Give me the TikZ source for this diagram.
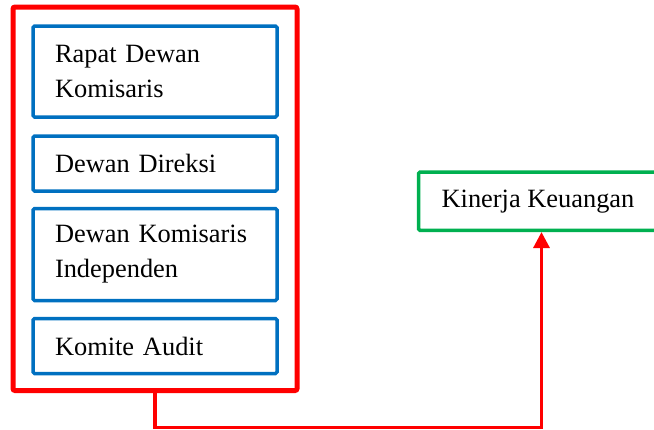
\documentclass[tikz,border=0pt]{standalone}
\usepackage{fontspec}
\setmainfont{Liberation Serif}
\usetikzlibrary{arrows.meta}
\definecolor{boxblue}{RGB}{0,112,192}
\definecolor{boxgreen}{RGB}{0,176,80}
\definecolor{boxred}{RGB}{255,0,0}
\tikzset{
  bluebox/.style={draw=boxblue, line width=3.5pt, rounded corners=1.5pt,
    text width=200pt, inner xsep=22pt, inner ysep=0pt, align=left,
    font=\fontsize{26.4}{35}\selectfont},
  greenbox/.style={draw=boxgreen, line width=3.5pt, rounded corners=1.5pt,
    minimum width=246pt, minimum height=58.3pt, inner sep=0pt,
    font=\fontsize{26.4}{35}\selectfont},
  redbox/.style={draw=boxred, line width=5pt, rounded corners=2pt,
    minimum width=284pt, minimum height=383.5pt, inner sep=0pt},
  conn/.style={draw=boxred, line width=3.3pt,
    -{Triangle[width=16pt,length=16pt]}}
}
\begin{document}
\begin{tikzpicture}[x=1pt,y=-1pt]
\useasboundingbox (0,0) rectangle (654,429);
\node[redbox] (grp) at (155,198.75) {};
\node[bluebox, minimum height=91pt] (rdk) at (155,71.5) {Rapat Dewan\\Komisaris};
\node[bluebox, minimum height=55pt] (dd) at (155,163.5) {Dewan Direksi};
\node[bluebox, minimum height=92pt] (dki) at (155,254.5) {Dewan Komisaris\\Independen};
\node[bluebox, minimum height=55pt] (ka) at (155,346) {Komite Audit};
\node[greenbox] (kin) at (541.5,201.15) {\hspace*{-7pt}Kinerja Keuangan};
\coordinate (c1) at (155,427.5);
\draw[conn] (grp.south) -- (c1) -| (kin.south);
\end{tikzpicture}
\end{document}
